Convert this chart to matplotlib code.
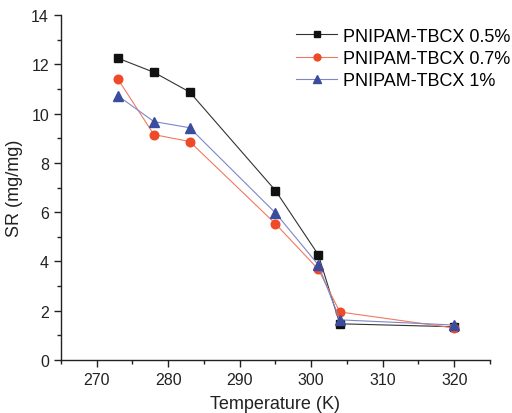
import numpy as np
import matplotlib
matplotlib.use('Agg')
import matplotlib.pyplot as plt
from matplotlib.ticker import MultipleLocator

plt.rcParams['font.family'] = ['Liberation Sans', 'DejaVu Sans']

# 温度 (K)
temperature = [273, 278, 283, 295, 301, 304, 320]

# 溶胀比 SR (mg/mg)
sr_05 = [12.25, 11.68, 10.88, 6.88, 4.27, 1.47, 1.35]
sr_07 = [11.39, 9.15, 8.87, 5.53, 3.68, 1.95, 1.30]
sr_1 = [10.72, 9.68, 9.43, 5.97, 3.86, 1.63, 1.42]

labels = ['PNIPAM-TBCX 0.5%', 'PNIPAM-TBCX 0.7%', 'PNIPAM-TBCX 1%']

fig = plt.figure(figsize=(5.12, 4.14), dpi=100)
ax = fig.add_axes([0.119, 0.128, 0.838, 0.833])

ax.plot(temperature, sr_05, color='#333333', lw=0.8, marker='s', ms=5.5,
        mfc='#111111', mec='#111111', label=labels[0])
ax.plot(temperature, sr_07, color='#f07a60', lw=0.8, marker='o', ms=6.2,
        mfc='#ee4a28', mec='#ee4a28', label=labels[1])
ax.plot(temperature, sr_1, color='#7f86c8', lw=0.8, marker='^', ms=6.8,
        mfc='#3a4c9e', mec='#3a4c9e', label=labels[2])

ax.set_xlim(265, 325)
ax.set_ylim(0, 14)
ax.xaxis.set_major_locator(MultipleLocator(10))
ax.xaxis.set_minor_locator(MultipleLocator(5))
ax.yaxis.set_major_locator(MultipleLocator(2))
ax.yaxis.set_minor_locator(MultipleLocator(1))

for s in ['top', 'right']:
    ax.spines[s].set_visible(False)
for s in ['left', 'bottom']:
    ax.spines[s].set_linewidth(1.0)
    ax.spines[s].set_color('#222222')

ax.tick_params(which='major', direction='out', length=5, width=1, labelsize=11.5,
               colors='#222222')
ax.tick_params(which='minor', direction='out', length=3, width=1, colors='#222222')

ax.set_xlabel('Temperature (K)', fontsize=13, color='#222222', labelpad=6)
ax.set_ylabel('SR (mg/mg)', fontsize=13, color='#222222', labelpad=6)

ax.legend(loc='upper right', bbox_to_anchor=(1.068, 0.99), frameon=False, fontsize=13,
          handlelength=2.3, handletextpad=0.3, labelspacing=0.3, borderaxespad=0.1,
          markerscale=0.8)

plt.savefig('out.png', dpi=100)
